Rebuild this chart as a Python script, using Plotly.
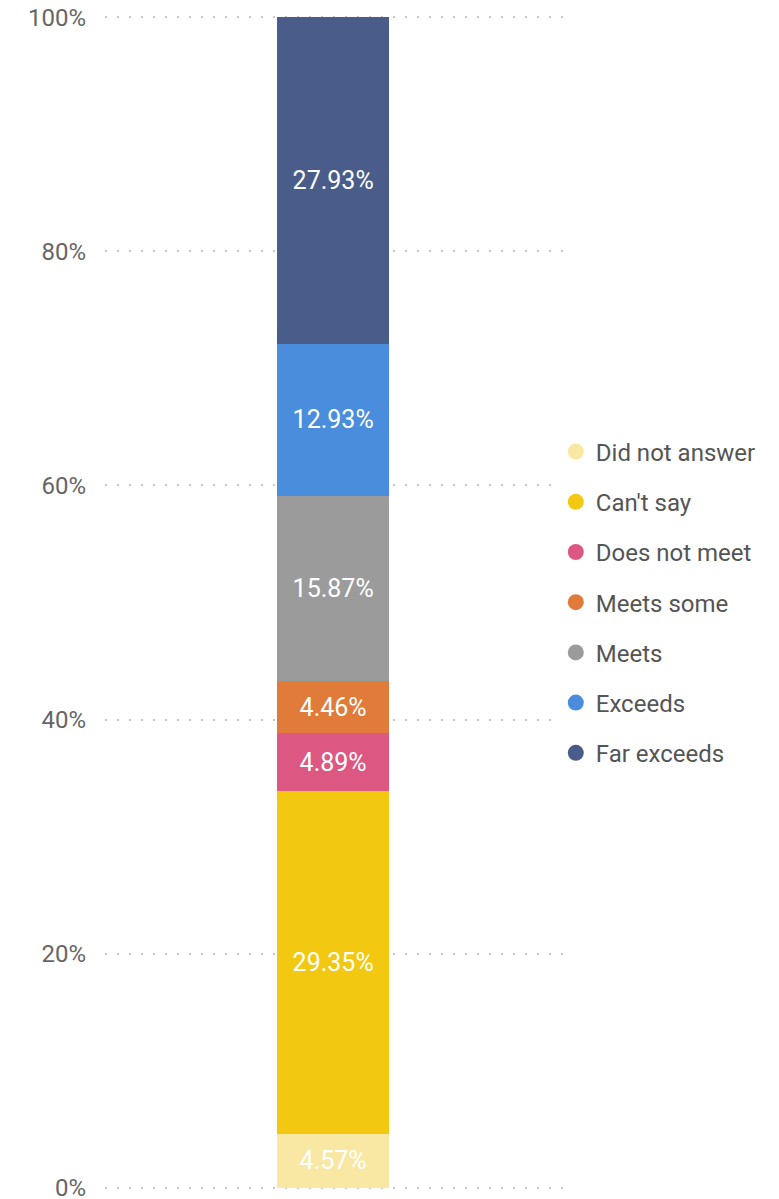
import plotly.graph_objects as go

# Response categories, stacked bottom to top
categories = ["Did not answer", "Can't say", "Does not meet", "Meets some",
              "Meets", "Exceeds", "Far exceeds"]
shares = [4.57, 29.35, 4.89, 4.46, 15.87, 12.93, 27.93]
colors = ["#F9E8A3", "#F2C811", "#DC5882", "#E07B39",
          "#9B9B9B", "#4A8DDC", "#4A5D8A"]

tick_vals = [0, 20, 40, 60, 80, 100]
tick_text = ["0%", "20%", "40%", "60%", "80%", "100%"]

fig = go.Figure()

for name, val, col in zip(categories, shares, colors):
    fig.add_trace(go.Bar(
        x=[0], y=[val], name=name,
        marker=dict(color=col, line=dict(width=0)),
        width=0.2435,
        texttemplate="%{y:.2f}%",
        textposition="inside",
        insidetextanchor="middle",
        textangle=0,
        textfont=dict(color="white", size=25, family="Roboto"),
        showlegend=False,
        hoverinfo="skip",
    ))

# Circular legend markers
for i, (name, col) in enumerate(zip(categories, colors)):
    fig.add_trace(go.Scatter(
        x=[None], y=[None], mode="markers", name=name,
        marker=dict(color=col, size=19, symbol="circle"),
        legendgroup=f"g{i}", showlegend=True,
    ))

fig.update_layout(
    barmode="stack",
    width=779, height=1199,
    margin=dict(l=105, r=214, t=15, b=9, autoexpand=False),
    plot_bgcolor="white", paper_bgcolor="white",
    font=dict(family="Roboto", color="#666666"),
    legend=dict(
        x=0.98, xanchor="left", y=0.5, yanchor="middle",
        traceorder="grouped", tracegroupgap=16,
        font=dict(size=24, color="#555555", family="Roboto"),
        itemsizing="trace",
    ),
    xaxis=dict(range=[-0.496, 0.504], showticklabels=False, showgrid=False,
               zeroline=False, showline=False, fixedrange=True),
    yaxis=dict(range=[-0.2, 100.2], tickvals=tick_vals, ticktext=tick_text,
               showgrid=True, gridcolor="#C8C8C8", gridwidth=2,
               griddash="2px,10px", zeroline=False, showline=False,
               automargin=False, ticklabeloverflow="allow",
               ticks="", ticklabelstandoff=18,
               tickfont=dict(size=24, color="#666666", family="Roboto")),
)

fig.write_html("out.html")
